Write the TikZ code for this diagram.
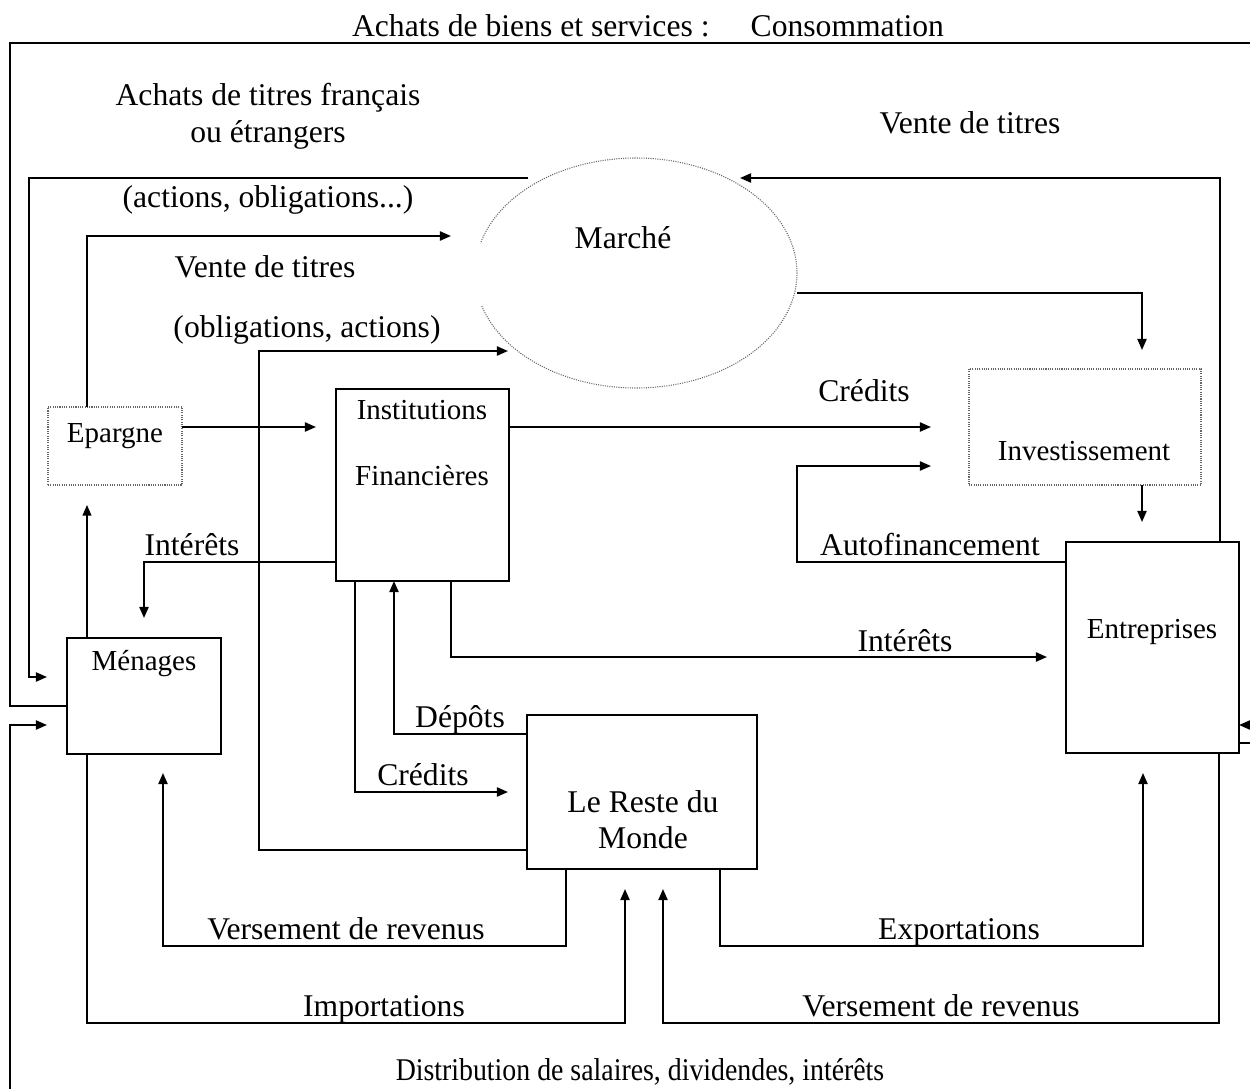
\documentclass[tikz,border=0pt]{standalone}
\usepackage{fontspec}
\usepackage{graphicx}
\setmainfont{Liberation Serif}
\usetikzlibrary{arrows.meta,shapes.geometric}
\tikzset{
  lbl/.style={inner sep=0pt, anchor=base, font=\fontsize{18}{21}\selectfont},
  blbl/.style={inner sep=0pt, anchor=base, font=\fontsize{16.5}{19}\selectfont},
  sz/.style 2 args={minimum width=#1*0.02cm, minimum height=#2*0.02cm},
  box/.style={draw, line width=0.9pt, inner sep=0pt, outer sep=0pt, rectangle},
  dbox/.style={draw=black!60, line width=0.6pt, dash pattern=on 0.6pt off 0.7pt, inner sep=0pt, outer sep=0pt, rectangle},
  dline/.style={draw=black!60, line width=0.6pt, dash pattern=on 0.6pt off 0.7pt},
  thin flow/.style={line width=0.75pt, -{Triangle[length=6pt,width=5pt]}},
  flow/.style={line width=1.05pt, -{Triangle[length=6.3pt,width=5.2pt]}},
}
\begin{document}
\begin{tikzpicture}[x=0.02cm, y=-0.02cm]
\clip (0,0) rectangle (1250,1088);
\fill[white] (0,0) rectangle (1250,1088);

% ---- boxes ----
\node[dbox, sz={134}{78}]  (ep)   at (115,446)   {};
\node[box,  sz={173}{192}] (inst) at (422.5,485) {};
\node[dbox, sz={232}{116}] (inv)  at (1085,427)  {};
\node[box,  sz={173}{211}] (ent)  at (1152.5,647.5) {};
\node[box,  sz={154}{116}] (men)  at (144,696)   {};
\node[box,  sz={230}{154}] (rdm)  at (642,792)   {};
\node[ellipse, inner sep=0pt, outer sep=0pt, sz={322}{230}] (mar) at (636,273) {};
% ellipse outline (with its gap on the left)
\draw[dline] (mar.center) ++(196.7:3.22cm and 2.30cm) arc[start angle=196.7, end angle=525, x radius=3.22cm, y radius=2.30cm];

% ---- box texts ----
\node[blbl] (eptxt)  at (115,442)  {Epargne};
\node[blbl] (insttxt1) at (422,419) {Institutions};
\node[blbl] (insttxt2) at (422,485) {Financières};
\node[blbl] (invtxt) at (1084,460) {Investissement};
\node[blbl] (enttxt) at (1152,638) {Entreprises};
\node[blbl] (mentxt) at (144,670)  {Ménages};
\node[lbl]  (rdmtxt1) at (643,812) {Le Reste du};
\node[lbl]  (rdmtxt2) at (643,848) {Monde};
\node[lbl]  (martxt) at (623,248)  {Marché};

% ---- free ends ----
\coordinate (marA) at (528,178);
\coordinate (marB) at (451,236);
\coordinate (marC) at (508,351);
\coordinate (marD) at (740,178);
\coordinate (marE) at (797,293);
\coordinate (menA) at (47,677);
\coordinate (menB) at (47,725);

% ---- connectors ----
% Consommation
\draw[flow] (men.west |- 0,706) -- (10,706) -- (10,43) -- (1256,43) -- (1256,725) -- (ent.east |- 0,725);
% Distribution de salaires
\draw[flow] (ent.east |- 0,743) -- (1256,743) -- (1256,1100) -- (10,1100) -- (10,725) -- (menB);
% Achats de titres
\draw[flow] (marA) -- (29,178) -- (29,677) -- (menA);
% Epargne -> marche
\draw[flow] (87,0 |- ep.north) -- (87,236) -- (marB);
% Reste du monde -> marche
\draw[flow] (rdm.west |- 0,850) -- (259,850) -- (259,351) -- (marC);
% Epargne -> institutions
\draw[flow] (ep.east |- 0,427) -- (316,427);
% Credits -> investissement
\draw[flow] (inst.east |- 0,427) -- (931,427);
% marche -> investissement
\draw[flow] (marE) -- (1142,293) -- (1142,350);
% investissement -> entreprises
\draw[flow] (1142,0 |- inv.south) -- (1142,522);
% autofinancement
\draw[flow] (ent.west |- 0,562) -- (797,562) -- (797,466) -- (931,466);
% interets -> menages
\draw[flow] (inst.west |- 0,562) -- (144,562) -- (144,618);
% interets -> entreprises
\draw[flow] (451,0 |- inst.south) -- (451,657) -- (1047,657);
% depots
\draw[flow] (rdm.west |- 0,734) -- (394,734) -- (394,0 |- inst.south);
% credits -> reste du monde
\draw[flow] (355,0 |- inst.south) -- (355,792) -- (508,792);
% menages -> epargne
\draw[thin flow] (87,0 |- men.north) -- (87,505);
% versement de revenus -> menages
\draw[flow] (566,0 |- rdm.south) -- (566,946) -- (163,946) -- (163,773);
% importations
\draw[flow] (87,0 |- men.south) -- (87,1023) -- (625,1023) -- (625,889);
% vente de titres (entreprises)
\draw[flow] (1220,0 |- ent.north) -- (1220,178) -- (marD);
% versement de revenus -> reste du monde
\draw[flow] (1219,0 |- ent.south) -- (1219,1023) -- (663,1023) -- (663,889);
% exportations
\draw[flow] (720,0 |- rdm.south) -- (720,946) -- (1143,946) -- (1143,773);

% ---- labels ----
\node[lbl] (l1)  at (648,37)   {Achats de biens et services :\hspace{1.3em}Consommation};
\node[lbl] (l2)  at (268,106)  {Achats de titres français};
\node[lbl] (l3)  at (268,142)  {ou étrangers};
\node[lbl] (l4)  at (268,207)  {(actions, obligations...)};
\node[lbl] (l5)  at (265,277)  {Vente de titres};
\node[lbl] (l6)  at (307,337)  {(obligations, actions)};
\node[lbl] (l7)  at (970,133)  {Vente de titres};
\node[lbl] (l8)  at (864,401)  {Crédits};
\node[lbl] (l9)  at (930,555)  {Autofinancement};
\node[lbl] (l10) at (192,555)  {Intérêts};
\node[lbl] (l11) at (905,651)  {Intérêts};
\node[lbl] (l12) at (460,727)  {Dépôts};
\node[lbl] (l13) at (423,785)  {Crédits};
\node[lbl] (l14) at (346,939)  {Versement de revenus};
\node[lbl] (l15) at (959,939)  {Exportations};
\node[lbl] (l16) at (384,1016) {Importations};
\node[lbl] (l17) at (941,1016) {Versement de revenus};
\node[lbl] (l18) at (640,1080) {\scalebox{0.88}[1]{Distribution de salaires, dividendes, intérêts}};
\end{tikzpicture}
\end{document}
